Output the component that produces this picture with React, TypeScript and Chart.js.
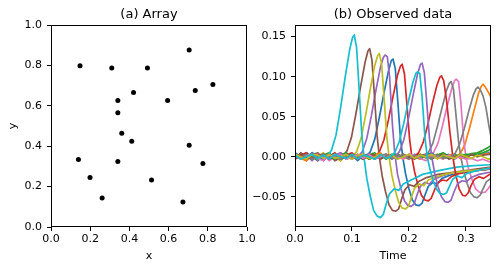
import React, { useEffect, useRef } from "react";
import { Chart, registerables } from "chart.js";

Chart.register(...registerables);

// ---------- (a) Array ----------
const arrayX = [0.148, 0.31, 0.492, 0.705, 0.826, 0.736, 0.421, 0.341, 0.595, 0.341, 0.361, 0.412, 0.705, 0.14, 0.341, 0.775, 0.199, 0.513, 0.261, 0.673];
const arrayY = [0.798, 0.787, 0.787, 0.876, 0.706, 0.676, 0.666, 0.626, 0.626, 0.565, 0.464, 0.425, 0.405, 0.334, 0.324, 0.314, 0.245, 0.233, 0.144, 0.124];
const arrayTicks = [0, 0.2, 0.4, 0.6, 0.8, 1.0];

// ---------- (b) Observed data ----------
const timeTicks = [0, 0.1, 0.2, 0.3];
const ampTicks = [-0.05, 0, 0.05, 0.1, 0.15];
const tab10 = ["#1f77b4", "#ff7f0e", "#2ca02c", "#d62728", "#9467bd", "#8c564b", "#e377c2", "#7f7f7f", "#bcbd22", "#17becf"];

type P = [number, number];

const s00: P[] = [[0,0.005],[0.01,0.000],[0.02,0.003],[0.03,-0.002],[0.04,0.002],[0.05,-0.005],[0.06,0.003],[0.07,0.000],[0.08,-0.002],[0.09,0.005],[0.10,-0.003],[0.11,0.002],[0.124,0],
  [0.132,0.006],[0.14,0.022],[0.148,0.049],[0.156,0.079],[0.164,0.107],[0.169,0.12],[0.172,0.122],[0.176,0.11],[0.18,0.073],[0.185,0.024],[0.189,0],
  [0.194,-0.021],[0.2,-0.04],[0.206,-0.054],[0.212,-0.06],[0.218,-0.061],[0.223,-0.058],[0.228,-0.048],[0.234,-0.037],[0.242,-0.032],[0.25,-0.034],[0.258,-0.027],[0.272,-0.023],[0.292,-0.02],[0.322,-0.017],[0.344,-0.015]];
const s01: P[] = [[0,-0.002],[0.01,0.003],[0.02,0.000],[0.03,-0.003],[0.04,0.003],[0.05,-0.003],[0.06,0.002],[0.07,0.000],[0.08,-0.005],[0.09,0.003],[0.10,0.002],[0.11,-0.002],[0.12,0.000],[0.13,0.003],[0.14,-0.003],[0.15,0.002],[0.16,0.000],[0.17,-0.002],[0.18,0.003],[0.19,0.000],[0.20,-0.003],[0.21,0.002],[0.22,0.003],[0.23,-0.002],[0.24,0.000],[0.25,0.003],[0.26,-0.002],[0.27,0.002],[0.282,0],
  [0.29,0.004],[0.298,0.015],[0.306,0.035],[0.314,0.057],[0.322,0.079],[0.327,0.088],[0.33,0.0905],[0.334,0.087],[0.339,0.081],[0.344,0.074]];
const s02: P[] = [[0,0.002],[0.01,-0.003],[0.02,0.005],[0.03,0.000],[0.04,-0.005],[0.05,0.002],[0.06,0.005],[0.07,-0.002],[0.08,0.002],[0.09,-0.003],[0.10,0.003],[0.11,0.000],[0.12,-0.003],[0.13,0.002],[0.14,0.005],[0.15,-0.002],[0.16,0.000],[0.17,0.003],[0.18,-0.003],[0.19,0.002],[0.20,0.000],[0.21,-0.002],[0.22,0.003],[0.23,0.000],[0.24,-0.003],[0.25,0.002],[0.26,0.005],[0.27,0.000],[0.28,-0.002],[0.29,0.003],[0.30,0.002],[0.31,0.004],[0.32,0.005],[0.33,0.008],[0.34,0.012],[0.344,0.014]];
const s03: P[] = [[0,-0.002],[0.01,0.003],[0.02,-0.005],[0.03,0.002],[0.04,0.003],[0.05,-0.002],[0.06,0.000],[0.07,0.005],[0.08,-0.003],[0.09,0.002],[0.10,0.005],[0.11,-0.002],[0.12,0.002],[0.13,-0.003],[0.14,0],
  [0.148,0.006],[0.156,0.021],[0.164,0.046],[0.172,0.075],[0.18,0.102],[0.185,0.113],[0.188,0.1155],[0.192,0.104],[0.196,0.069],[0.201,0.023],[0.205,0],
  [0.21,-0.019],[0.216,-0.036],[0.222,-0.048],[0.228,-0.054],[0.234,-0.055],[0.239,-0.052],[0.244,-0.043],[0.25,-0.033],[0.258,-0.029],[0.266,-0.03],[0.274,-0.025],[0.288,-0.021],[0.308,-0.018],[0.344,-0.015]];
const s04: P[] = [[0,-0.003],[0.01,0.002],[0.02,-0.002],[0.03,0.005],[0.04,-0.005],[0.05,0.002],[0.06,0.003],[0.07,-0.003],[0.08,0.000],[0.09,0.003],[0.10,-0.002],[0.11,0],
  [0.118,0.006],[0.126,0.023],[0.134,0.051],[0.142,0.083],[0.15,0.112],[0.155,0.124],[0.158,0.127],[0.162,0.125],[0.166,0.1],[0.171,0.04],[0.175,0.005],
  [0.18,-0.022],[0.186,-0.04],[0.192,-0.055],[0.198,-0.061],[0.204,-0.062],[0.209,-0.059],[0.214,-0.048],[0.22,-0.037],[0.228,-0.032],[0.236,-0.034],[0.244,-0.028],[0.258,-0.024],[0.278,-0.02],[0.308,-0.017],[0.344,-0.015]];
const s05: P[] = [[0,-0.002],[0.01,0.003],[0.02,-0.003],[0.03,0.002],[0.04,0.005],[0.05,-0.002],[0.06,0.003],[0.07,-0.005],[0.083,0],
  [0.091,0.007],[0.099,0.024],[0.107,0.054],[0.115,0.087],[0.123,0.118],[0.128,0.132],[0.131,0.135],[0.135,0.121],[0.139,0.081],[0.144,0.027],[0.148,0],
  [0.153,-0.024],[0.159,-0.044],[0.165,-0.06],[0.171,-0.067],[0.177,-0.068],[0.182,-0.065],[0.187,-0.053],[0.193,-0.041],[0.201,-0.035],[0.209,-0.037],[0.217,-0.031],[0.231,-0.026],[0.251,-0.022],[0.281,-0.019],[0.311,-0.016],[0.344,-0.013]];
const s06: P[] = [[0,-0.003],[0.01,0.002],[0.02,0.000],[0.03,-0.003],[0.04,0.003],[0.05,0.002],[0.06,-0.005],[0.07,0.000],[0.08,0.003],[0.09,-0.002],[0.10,0.002],[0.11,-0.003],[0.12,0.000],[0.13,0.003],[0.14,-0.002],[0.15,0.000],[0.16,0.003],[0.17,-0.003],[0.18,0.002],[0.19,0.000],[0.20,-0.002],[0.21,0.003],[0.22,0.000],[0.235,0],
  [0.243,0.005],[0.251,0.017],[0.259,0.039],[0.267,0.063],[0.275,0.085],[0.28,0.095],[0.283,0.097],[0.287,0.094],[0.291,0.068],[0.296,0.021],[0.3,0],
  [0.305,-0.016],[0.311,-0.029],[0.317,-0.04],[0.323,-0.044],[0.329,-0.045],[0.334,-0.044],[0.339,-0.04],[0.344,-0.035]];
const s07: P[] = [[0,0.000],[0.01,0.003],[0.02,-0.002],[0.03,0.002],[0.04,-0.003],[0.05,0.003],[0.06,0.000],[0.07,-0.002],[0.08,0.005],[0.09,0.000],[0.10,-0.003],[0.11,0.002],[0.12,0.000],[0.13,0.003],[0.14,-0.002],[0.15,0.002],[0.16,-0.003],[0.17,0.003],[0.18,0.000],[0.19,-0.002],[0.20,0.003],[0.21,-0.002],[0.226,0],
  [0.234,0.005],[0.242,0.017],[0.25,0.038],[0.258,0.061],[0.266,0.083],[0.271,0.092],[0.274,0.094],[0.278,0.085],[0.282,0.056],[0.287,0.019],[0.291,0],
  [0.296,-0.018],[0.302,-0.033],[0.308,-0.045],[0.314,-0.05],[0.32,-0.051],[0.325,-0.048],[0.33,-0.04],[0.336,-0.031],[0.344,-0.027]];
const s08: P[] = [[0,0.002],[0.01,-0.003],[0.02,0.003],[0.03,-0.002],[0.04,0.000],[0.05,0.005],[0.06,-0.002],[0.07,0.003],[0.08,-0.005],[0.09,0.002],[0.1,0],
  [0.108,0.006],[0.116,0.023],[0.124,0.052],[0.132,0.084],[0.14,0.114],[0.145,0.126],[0.148,0.129],[0.152,0.116],[0.156,0.077],[0.161,0.026],[0.165,0],
  [0.17,-0.023],[0.176,-0.042],[0.182,-0.057],[0.188,-0.064],[0.194,-0.065],[0.199,-0.062],[0.204,-0.051],[0.21,-0.039],[0.218,-0.034],[0.226,-0.036],[0.234,-0.029],[0.248,-0.025],[0.268,-0.021],[0.298,-0.018],[0.328,-0.016],[0.344,-0.014]];
const s09: P[] = [[0,0.003],[0.01,-0.002],[0.02,0.005],[0.03,0.000],[0.04,-0.003],[0.05,0.002],[0.056,0],
  [0.064,0.008],[0.072,0.027],[0.08,0.061],[0.088,0.099],[0.096,0.134],[0.101,0.149],[0.104,0.152],[0.108,0.137],[0.112,0.091],[0.117,0.03],[0.121,0],
  [0.126,-0.027],[0.132,-0.049],[0.138,-0.067],[0.144,-0.074],[0.15,-0.076],[0.155,-0.072],[0.16,-0.059],[0.166,-0.046],[0.174,-0.04],[0.182,-0.042],[0.19,-0.034],[0.204,-0.029],[0.224,-0.022],[0.254,-0.017],[0.284,-0.013],[0.314,-0.011],[0.344,-0.01]];
const s10: P[] = [[0,-0.003],[0.01,0.002],[0.02,-0.002],[0.03,0.005],[0.04,0.000],[0.05,-0.003],[0.06,0.002],[0.07,0.003],[0.08,-0.003],[0.09,0.000],[0.10,0.002],[0.11,-0.005],[0.12,0.002],[0.13,0.003],[0.14,-0.002],[0.15,0.000],[0.16,0.003],[0.17,-0.003],[0.18,0.002],[0.19,0.000],[0.20,-0.002],[0.21,0.003],[0.22,-0.003],[0.23,0.002],[0.24,0.005],[0.25,-0.002],[0.26,0.000],[0.27,0.003],[0.28,-0.003],[0.29,0.002],[0.30,0.000],[0.31,0.003],[0.32,0.002],[0.33,0.004],[0.34,0.005],[0.344,0.006]];
const s11: P[] = [[0,0.003],[0.01,-0.002],[0.02,-0.005],[0.03,0.002],[0.04,0.003],[0.05,-0.002],[0.06,0.000],[0.07,0.003],[0.08,-0.002],[0.09,0.002],[0.10,-0.003],[0.11,0.003],[0.12,0.000],[0.13,-0.002],[0.14,0.002],[0.15,0.005],[0.16,-0.002],[0.17,0.000],[0.18,0.003],[0.19,-0.003],[0.20,0.002],[0.21,0.000],[0.22,-0.003],[0.23,0.003],[0.24,0.000],[0.25,0.002],[0.26,-0.003],[0.27,0.002],[0.28,0.003],[0.29,-0.002],[0.30,0.000],[0.31,0.003],[0.32,0.000],[0.33,0.003],[0.34,0.004],[0.344,0.005]];
const s12: P[] = [[0,0.000],[0.01,0.003],[0.02,-0.002],[0.03,0.002],[0.04,-0.003],[0.05,0.003],[0.06,0.000],[0.07,-0.003],[0.08,0.002],[0.09,0.005],[0.10,-0.002],[0.11,0.000],[0.12,0.003],[0.13,-0.003],[0.14,0.000],[0.15,0.002],[0.16,-0.003],[0.17,0.002],[0.18,0.003],[0.19,-0.002],[0.20,0.003],[0.21,0.000],[0.22,-0.002],[0.23,0.002],[0.24,-0.003],[0.25,0.003],[0.26,0.000],[0.27,-0.002],[0.28,0.003],[0.29,0.000],[0.30,0.003],[0.31,0.002],[0.32,0.004],[0.33,0.005],[0.34,0.008],[0.344,0.01]];
const s13: P[] = [[0,-0.003],[0.01,0.002],[0.02,0.005],[0.03,-0.002],[0.04,0.000],[0.05,0.003],[0.06,-0.003],[0.07,0.002],[0.08,-0.002],[0.09,0.003],[0.10,0.000],[0.11,-0.003],[0.12,0.003],[0.13,-0.002],[0.14,0.002],[0.15,-0.003],[0.16,0.003],[0.17,0.000],[0.18,-0.002],[0.19,0.003],[0.20,-0.002],[0.209,0],
  [0.217,0.005],[0.225,0.018],[0.233,0.04],[0.241,0.066],[0.249,0.089],[0.254,0.099],[0.257,0.101],[0.261,0.095],[0.266,0.07],[0.272,0.03],[0.277,0],
  [0.282,-0.022],[0.288,-0.04],[0.294,-0.048],[0.299,-0.049],[0.304,-0.045],[0.309,-0.036],[0.315,-0.028],[0.323,-0.025],[0.331,-0.027],[0.344,-0.021]];
const s14: P[] = [[0,0.003],[0.01,-0.002],[0.02,0.002],[0.03,-0.005],[0.04,0.003],[0.05,0.000],[0.06,-0.002],[0.07,0.002],[0.08,0.005],[0.09,-0.003],[0.10,0.000],[0.11,0.003],[0.12,-0.002],[0.13,0.002],[0.14,-0.003],[0.15,0.003],[0.16,0.000],[0.175,0],
  [0.183,0.006],[0.191,0.021],[0.199,0.047],[0.207,0.076],[0.215,0.103],[0.22,0.115],[0.223,0.117],[0.227,0.105],[0.231,0.07],[0.236,0.023],[0.24,0],
  [0.245,-0.02],[0.251,-0.037],[0.257,-0.05],[0.263,-0.056],[0.269,-0.057],[0.274,-0.054],[0.279,-0.044],[0.285,-0.034],[0.293,-0.03],[0.301,-0.031],[0.309,-0.026],[0.323,-0.022],[0.344,-0.019]];
const s15: P[] = [[0,-0.002],[0.01,0.005],[0.02,0.000],[0.03,-0.003],[0.04,0.002],[0.05,0.003],[0.06,-0.003],[0.07,0.002],[0.08,0.000],[0.09,-0.002],[0.10,0.003],[0.11,0.000],[0.12,-0.003],[0.13,0.003],[0.14,0.002],[0.15,-0.003],[0.16,0.002],[0.17,0.000],[0.18,-0.002],[0.19,0.003],[0.20,0.000],[0.21,-0.003],[0.22,0.002],[0.23,0.003],[0.24,-0.002],[0.25,0.000],[0.26,0.003],[0.27,-0.003],[0.28,0.000],[0.29,0.002],[0.30,-0.002],[0.31,0.003],[0.32,0.000],[0.33,0.002],[0.34,0.003],[0.344,0.003]];
const s16: P[] = [[0,0.002],[0.01,-0.003],[0.02,0.002],[0.03,0.003],[0.04,-0.002],[0.05,-0.005],[0.06,0.002],[0.07,0.000],[0.08,0.003],[0.09,-0.003],[0.10,0.000],[0.11,0.002],[0.12,-0.002],[0.13,0.003],[0.14,-0.003],[0.15,0.000],[0.16,0.003],[0.17,-0.002],[0.18,0.000],[0.19,-0.003],[0.20,0.003],[0.21,0.002],[0.22,-0.002],[0.23,-0.005],[0.24,0.002],[0.25,0.000],[0.26,-0.003],[0.27,0.002],[0.28,-0.002],[0.29,0.000],[0.30,-0.003],[0.31,-0.002],[0.32,-0.005],[0.33,-0.003],[0.34,-0.006],[0.344,-0.006]];
const s17: P[] = [[0,0.002],[0.01,-0.002],[0.02,0.003],[0.03,-0.003],[0.04,0.000],[0.05,0.003],[0.06,-0.002],[0.07,0.002],[0.08,-0.003],[0.09,0.003],[0.10,0.000],[0.11,-0.002],[0.12,0.003],[0.13,0.000],[0.14,-0.003],[0.15,0.002],[0.16,0.003],[0.17,-0.002],[0.18,0.000],[0.19,0.003],[0.20,-0.003],[0.21,0.002],[0.22,0.000],[0.23,0.003],[0.24,-0.002],[0.25,0.002],[0.26,-0.002],[0.273,0],
  [0.281,0.004],[0.289,0.016],[0.297,0.035],[0.305,0.057],[0.313,0.077],[0.318,0.085],[0.321,0.087],[0.325,0.084],[0.33,0.076],[0.335,0.062],[0.34,0.04],[0.344,0.025]];
const s18: P[] = [[0,0.003],[0.01,0.000],[0.02,-0.003],[0.03,0.003],[0.04,0.002],[0.05,-0.002],[0.06,0.003],[0.07,-0.002],[0.08,0.000],[0.09,0.003],[0.10,-0.003],[0.11,0.002],[0.12,0.003],[0.13,-0.002],[0.14,0.000],[0.15,0.003],[0.16,-0.002],[0.17,0.002],[0.18,-0.003],[0.19,0.000],[0.20,0.003],[0.21,-0.002],[0.22,0.002],[0.23,0.000],[0.24,0.003],[0.25,-0.003],[0.26,0.002],[0.27,0.000],[0.28,-0.002],[0.29,0.003],[0.30,0.000],[0.31,-0.002],[0.32,0.002],[0.33,0.000],[0.34,-0.003],[0.344,-0.002]];
const s19: P[] = [[0,0.002],[0.01,-0.003],[0.02,0.000],[0.03,0.003],[0.04,-0.002],[0.05,0.002],[0.06,-0.003],[0.07,0.003],[0.08,0.000],[0.09,-0.002],[0.10,0.003],[0.11,-0.003],[0.12,0.002],[0.13,0.000],[0.14,-0.003],[0.15,0.003],[0.16,-0.002],[0.167,0],
  [0.175,0.005],[0.183,0.019],[0.191,0.042],[0.199,0.069],[0.207,0.093],[0.212,0.104],[0.215,0.106],[0.219,0.104],[0.223,0.075],[0.228,0.025],[0.232,0],
  [0.237,-0.016],[0.243,-0.031],[0.249,-0.041],[0.255,-0.046],[0.261,-0.047],[0.266,-0.045],[0.271,-0.037],[0.277,-0.028],[0.285,-0.024],[0.293,-0.026],[0.301,-0.021],[0.315,-0.018],[0.335,-0.015],[0.344,-0.014]];

const observed: P[][] = [s00, s01, s02, s03, s04, s05, s06, s07, s08, s09, s10, s11, s12, s13, s14, s15, s16, s17, s18, s19];

const FONT = "'DejaVu Sans', sans-serif";
Chart.defaults.font.family = FONT;
Chart.defaults.font.size = 11;
Chart.defaults.color = "#000";

const framePlugin = {
  id: "frame",
  afterDraw(chart: any, _args: any, opts: any) {
    const { ctx, chartArea } = chart;
    const { left, top, right, bottom } = chartArea;
    ctx.save();
    ctx.strokeStyle = "#000";
    ctx.lineWidth = 1;
    const l = Math.round(left) + 0.5, t = Math.round(top) + 0.5;
    const r = Math.round(right) - 0.5, b = Math.round(bottom) - 0.5;
    ctx.strokeRect(l, t, r - l, b - t);
    ctx.fillStyle = "#000";
    ctx.font = `13px ${FONT}`;
    ctx.textAlign = "center";
    ctx.textBaseline = "middle";
    ctx.fillText(opts.title, (left + right) / 2, 15);
    ctx.restore();
  },
};

const gridOpts = { drawOnChartArea: false, drawTicks: true, tickLength: 4, color: "#000", lineWidth: 1 };

export default function App() {
  const leftRef = useRef<HTMLCanvasElement>(null);
  const rightRef = useRef<HTMLCanvasElement>(null);

  useEffect(() => {
    const c1 = new Chart(leftRef.current!, {
      type: "scatter",
      data: {
        datasets: [
          {
            data: arrayX.map((x, i) => ({ x, y: arrayY[i] })),
            backgroundColor: "#000",
            borderWidth: 0,
            pointRadius: 2.5,
          },
        ],
      },
      options: {
        responsive: false,
        animation: false,
        devicePixelRatio: 1,
        layout: { padding: { left: 0, right: 15, top: 25, bottom: 0 } },
        plugins: { legend: { display: false }, tooltip: { enabled: false }, frame: { title: "(a) Array" } } as any,
        scales: {
          x: {
            type: "linear", min: 0, max: 1,
            afterBuildTicks: (s: any) => { s.ticks = arrayTicks.map((v) => ({ value: v })); },
            afterFit: (s: any) => { s.height = 43; },
            ticks: { padding: 2, callback: (v: any) => Number(v).toFixed(1) },
            grid: gridOpts, border: { display: false },
            title: { display: true, text: "x", font: { size: 11 }, padding: { top: 0, bottom: 7.4 } },
          },
          y: {
            type: "linear", min: 0, max: 1,
            afterBuildTicks: (s: any) => { s.ticks = arrayTicks.map((v) => ({ value: v })); },
            afterFit: (s: any) => { s.width = 51; },
            ticks: { padding: 5, callback: (v: any) => Number(v).toFixed(1) },
            grid: gridOpts, border: { display: false },
            title: { display: true, text: "y", font: { size: 11 }, padding: { top: 6.4, bottom: 0 } },
          },
        },
      } as any,
      plugins: [framePlugin],
    });

    const c2 = new Chart(rightRef.current!, {
      type: "line",
      data: {
        datasets: observed.map((s, i) => ({
          data: s.map(([x, y]) => ({ x, y })),
          borderColor: tab10[i % 10],
          borderWidth: 1.7,
          pointRadius: 0,
          fill: false,
          tension: 0,
          borderJoinStyle: "round",
          order: observed.length - i,
        })),
      },
      options: {
        responsive: false,
        animation: false,
        devicePixelRatio: 1,
        layout: { padding: { left: 0, right: 8, top: 25, bottom: 0 } },
        plugins: { legend: { display: false }, tooltip: { enabled: false }, frame: { title: "(b) Observed data" } } as any,
        scales: {
          x: {
            type: "linear", min: 0, max: 0.344,
            afterBuildTicks: (s: any) => { s.ticks = timeTicks.map((v) => ({ value: v })); },
            afterFit: (s: any) => { s.height = 43; },
            ticks: { padding: 2, callback: (v: any) => Number(v).toFixed(1) },
            grid: gridOpts, border: { display: false },
            title: { display: true, text: "Time", font: { size: 11 }, padding: { top: 0, bottom: 7.4 } },
          },
          y: {
            type: "linear", min: -0.0877, max: 0.1645,
            afterBuildTicks: (s: any) => { s.ticks = ampTicks.map((v) => ({ value: v })); },
            afterFit: (s: any) => { s.width = 45; },
            ticks: {
              padding: 5,
              callback: (v: any) => {
                const n = Number(v);
                const str = Math.abs(n) < 1e-9 ? "0.00" : n.toFixed(2);
                return str.replace("-", "\u2212");
              },
            },
            grid: gridOpts, border: { display: false },
          },
        },
      } as any,
      plugins: [framePlugin],
    });

    return () => {
      c1.destroy();
      c2.destroy();
    };
  }, []);

  return (
    <div style={{ position: "fixed", left: 0, top: 0, width: 499, height: 270, background: "#fff", overflow: "hidden" }}>
      <canvas ref={leftRef} width={262} height={270} style={{ position: "absolute", left: 0, top: 0, width: 262, height: 270 }} />
      <canvas ref={rightRef} width={249} height={270} style={{ position: "absolute", left: 250, top: 0, width: 249, height: 270 }} />
    </div>
  );
}
